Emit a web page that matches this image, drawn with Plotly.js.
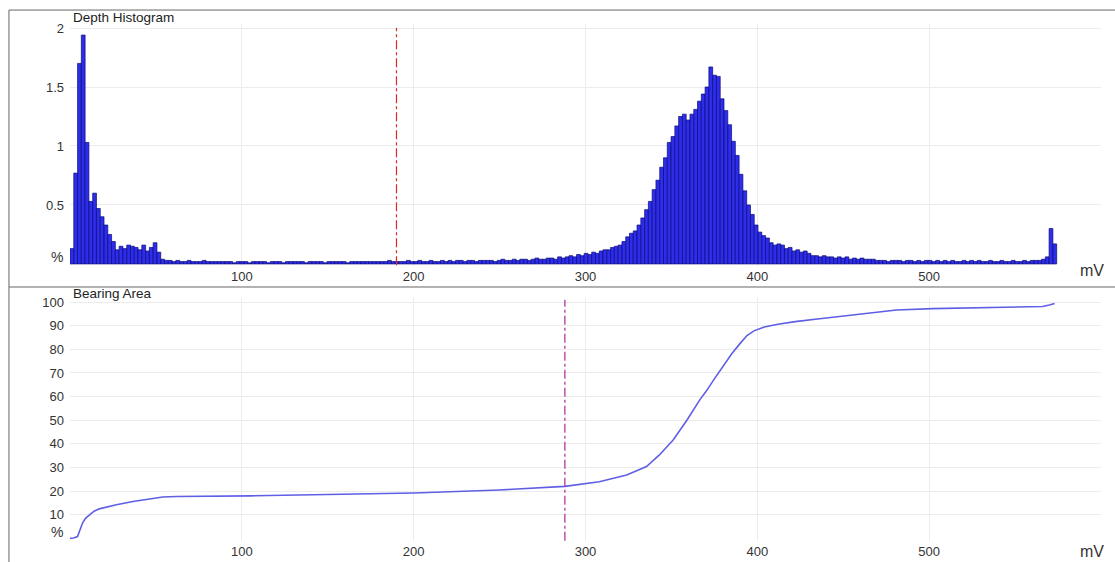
<!DOCTYPE html>
<html>
<head>
<meta charset="utf-8">
<script src="https://cdn.plot.ly/plotly-3.0.1.min.js"></script>
<style>html,body{margin:0;padding:0;background:#fff;}#chart{width:1115px;height:562px;}</style>
</head>
<body>
<div id="chart"></div>
<script>
// ---- Depth histogram (bins of 2.2 mV starting at 0) ----
const binStart = 0;
const binWidth = 2.2;
const histLeft = [0.13,0.77,1.70,1.94,1.03,0.53,0.60,0.47,0.40,0.33,0.25,0.19,0.12,0.15,0.13,0.16,0.15,0.14,0.12,0.16,0.11,0.14,0.18,0.10,0.04];
const histFlat = [0.03,0.03,0.02,0.03,0.02,0.02,0.03,0.02,0.02,0.02,0.03,0.02,0.02,0.02,0.02,0.02,
  0.02,0.02,0.01,0.02,0.02,0.02,0.01,0.02,0.02,0.02,0.02,0.01,0.02,0.02,0.02,0.01,0.02,0.02,0.02,0.02,
  0.02,0.01,0.02,0.02,0.02,0.02,0.01,0.02,0.02,0.02,0.02,0.02,0.01,0.02,0.02,0.02,0.02,0.02,0.02,0.02,
  0.02,0.02,0.02,0.03,0.02,0.02,0.02,0.02,0.03,0.02,0.02,0.03,0.02,0.02,0.03,0.02,0.02,0.03,0.02,0.03,
  0.02,0.03,0.03,0.02,0.03,0.03,0.02,0.03,0.03,0.03,0.03,0.02,0.03,0.04,0.03,0.03,0.04,0.03,0.04,0.04,0.03,0.04,0.05,0.04,0.04,0.05];
const histPeak = [0.05,0.04,0.06,0.05,0.06,0.07,0.06,0.08,0.07,0.09,
  0.08,0.10,0.09,0.11,0.12,0.12,0.14,0.15,0.16,0.19,
  0.23,0.26,0.28,0.33,0.39,0.46,0.53,0.63,0.71,0.82,
  0.90,1.03,1.08,1.17,1.25,1.27,1.22,1.27,1.31,1.38,
  1.44,1.50,1.67,1.60,1.59,1.40,1.30,1.18,1.04,0.92,
  0.76,0.62,0.50,0.42,0.33,0.27,0.24,0.22,0.18,0.16,
  0.17,0.16,0.13,0.14,0.11,0.12,0.10,0.11,0.09,0.07,
  0.07,0.06,0.07,0.06,0.06,0.05,0.06,0.05,0.06,0.04,
  0.05,0.04,0.05,0.04,0.04,0.04,0.03];
const histTail = [0.03,0.03,0.02,0.03,0.03,0.03,0.02,0.03,0.03,0.02,0.03,0.02,0.03,0.03,0.02,0.03,0.02,
  0.03,0.02,0.03,0.02,0.02,0.03,0.02,0.03,0.02,0.03,0.02,0.02,0.03,0.02,0.02,0.03,0.02,
  0.02,0.03,0.02,0.02,0.03,0.02,0.03,0.03,
  0.03,0.04,0.06,0.30,0.17];
const histValues = histLeft.concat(histFlat, histPeak, histTail);

// ---- Bearing area curve ----
const bearingMv  = [0,2,4.4,7.3,9,11.4,14,17,22,27,36.6,46,54,62,80,105,150,200,250,288,308,324,335.5,343,351,359,366.5,370,375,380,385,390,394,398,404,412,422,435,450,464,481,502,535,566,570,573];
const bearingPct = [0,0.2,0.8,6.5,8.5,10,11.5,12.5,13.5,14.2,15.6,16.6,17.5,17.7,17.8,18.0,18.6,19.2,20.5,22.0,24,26.8,30.4,35.3,41.6,50,58.6,62,67.5,73,78,82.5,85.8,87.8,89.4,90.6,91.7,92.8,94.0,95.2,96.6,97.2,97.8,98.1,98.7,99.4];

// ---- markers and ticks ----
const histMarkerMv = 190;
const bearingMarkerMv = 288;
const xTicks = [100,200,300,400,500,600];
const xTickText = ['100','200','300','400','500',''];
const histYTicks = [0.5,1,1.5,2];
const bearingYTicks = [10,20,30,40,50,60,70,80,90,100];

const fontFamily = 'Liberation Sans, Arial, sans-serif';
const tickFont = {family:fontFamily, size:13, color:'#333'};
const gridColor = '#ececec';

const traces = [
  {type:'bar', x0: binStart + binWidth/2, dx: binWidth, y: histValues, xaxis:'x', yaxis:'y',
   marker:{color:'rgb(45,45,235)', line:{color:'rgb(10,10,120)', width:0.7}}, hoverinfo:'skip'},
  {type:'scatter', mode:'lines', x: bearingMv, y: bearingPct, xaxis:'x2', yaxis:'y2',
   line:{color:'rgb(95,95,230)', width:1.6}, hoverinfo:'skip'}
];

const axisCommon = {showline:false, zeroline:false, ticks:'', gridcolor:gridColor, gridwidth:1, tickfont:tickFont, fixedrange:true};

const layout = {
  width:1115, height:562,
  margin:{l:70, r:14, t:24, b:21},
  paper_bgcolor:'#fff', plot_bgcolor:'#fff',
  showlegend:false, bargap:0,
  xaxis: Object.assign({}, axisCommon, {domain:[0,1], range:[0,600], tickmode:'array', tickvals:xTicks, ticktext:xTickText, anchor:'y', ticklabelstandoff:1}),
  yaxis: Object.assign({}, axisCommon, {domain:[0.532,1], range:[-0.017,2.034], tickmode:'array', tickvals:histYTicks, ticktext:['0.5','1','1.5','2'], anchor:'x', ticklabelstandoff:5}),
  xaxis2: Object.assign({}, axisCommon, {domain:[0,1], range:[0,600], tickmode:'array', tickvals:xTicks, ticktext:xTickText, anchor:'y2', ticklabelstandoff:1}),
  yaxis2: Object.assign({}, axisCommon, {domain:[0,0.47], range:[-1.1,101.7], tickmode:'array', tickvals:bearingYTicks, anchor:'x2', ticklabelstandoff:5}),
  shapes: [
    {type:'line', xref:'x', yref:'y', x0:histMarkerMv, x1:histMarkerMv, y0:-0.01, y1:2.0,
     line:{color:'rgb(220,40,40)', width:1.2, dash:'dashdot'}},
    {type:'line', xref:'x2', yref:'y2', x0:bearingMarkerMv, x1:bearingMarkerMv, y0:-1, y1:101,
     line:{color:'rgb(175,40,150)', width:1.2, dash:'dashdot'}},
    {type:'line', xref:'paper', yref:'paper', x0:-0.0592, x1:1.0136, y0:1.027, y1:1.027, line:{color:'#666', width:1}},
    {type:'line', xref:'paper', yref:'paper', x0:-0.0592, x1:1.0136, y0:0.4913, y1:0.4913, line:{color:'#666', width:1}},
    {type:'line', xref:'paper', yref:'paper', x0:-0.0592, x1:-0.0592, y0:1.027, y1:-0.05, line:{color:'#666', width:1}}
  ],
  annotations: [
    {text:'Depth Histogram', xref:'paper', yref:'paper', x:0.001, y:1.0135, xanchor:'left', yanchor:'middle', showarrow:false,
     font:{family:fontFamily, size:13.5, color:'#222'}},
    {text:'Bearing Area', xref:'paper', yref:'paper', x:0.001, y:0.479, xanchor:'left', yanchor:'middle', showarrow:false,
     font:{family:fontFamily, size:13.5, color:'#222'}},
    {text:'mV', xref:'paper', yref:'paper', x:0.991, y:0.524, xanchor:'center', yanchor:'middle', showarrow:false,
     font:{family:fontFamily, size:16, color:'#333'}},
    {text:'mV', xref:'paper', yref:'paper', x:0.991, y:-0.021, xanchor:'center', yanchor:'middle', showarrow:false,
     font:{family:fontFamily, size:16, color:'#333'}},
    {text:'%', xref:'paper', yref:'paper', x:-0.0126, y:0.549, xanchor:'center', yanchor:'middle', showarrow:false,
     font:{family:fontFamily, size:14, color:'#333'}},
    {text:'%', xref:'paper', yref:'paper', x:-0.0126, y:0.0174, xanchor:'center', yanchor:'middle', showarrow:false,
     font:{family:fontFamily, size:14, color:'#333'}}
  ]
};

Plotly.newPlot('chart', traces, layout, {staticPlot:true, displayModeBar:false});
</script>
</body>
</html>
